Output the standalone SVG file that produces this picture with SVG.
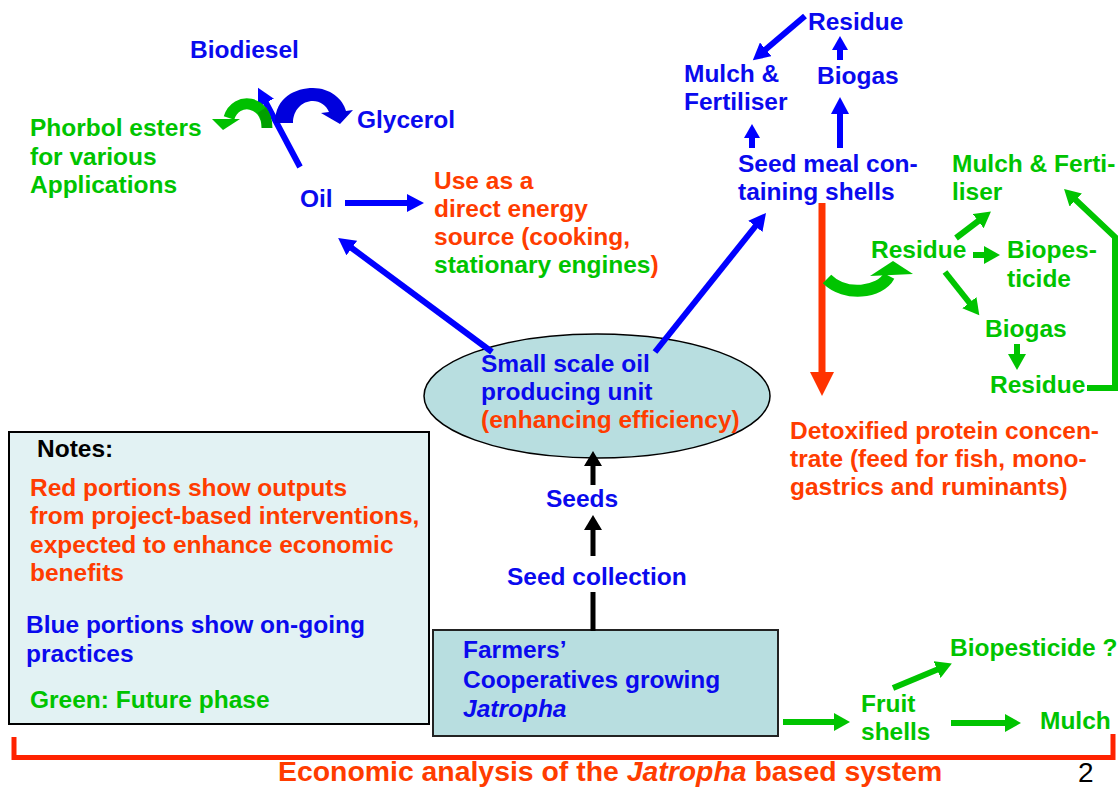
<svg xmlns="http://www.w3.org/2000/svg" width="1120" height="792" viewBox="0 0 1120 792">
<style>
text{font-family:"Liberation Sans",Arial,Helvetica,sans-serif;font-weight:bold;font-size:24.5px}
.b{fill:#0A0AEE}.g{fill:#00C400}.r{fill:#FF3C00}.k{fill:#000}
.lb{stroke:#0000FF;stroke-width:6;fill:none}
.lg{stroke:#00C400;stroke-width:6;fill:none}
.lk{stroke:#000;stroke-width:5;fill:none}
.lr{stroke:#FF3300;stroke-width:7;fill:none}
</style>
<defs>
<marker id="hb" markerUnits="userSpaceOnUse" markerWidth="18" markerHeight="18" viewBox="0 0 18 18" refX="1" refY="9" orient="auto"><path d="M0,0L17,9L0,18z" fill="#0000FF"/></marker>
<marker id="hbs" markerUnits="userSpaceOnUse" markerWidth="16" markerHeight="16" viewBox="0 0 16 16" refX="1" refY="8" orient="auto"><path d="M0,0L14,8L0,16z" fill="#0000FF"/></marker>
<marker id="hg" markerUnits="userSpaceOnUse" markerWidth="18" markerHeight="18" viewBox="0 0 18 18" refX="1" refY="9" orient="auto"><path d="M0,0L16,9L0,18z" fill="#00C400"/></marker>
<marker id="hk" markerUnits="userSpaceOnUse" markerWidth="18" markerHeight="18" viewBox="0 0 18 18" refX="1" refY="9" orient="auto"><path d="M0,0L15,9L0,18z" fill="#000"/></marker>
<marker id="hr" markerUnits="userSpaceOnUse" markerWidth="25" markerHeight="24" viewBox="0 0 25 24" refX="1" refY="12" orient="auto"><path d="M0,0L24,12L0,24z" fill="#FF3300"/></marker>
</defs>

<g id="notes">
<rect x="9" y="432" width="420" height="292" fill="#E2F2F3" stroke="#000" stroke-width="2"/>
<text x="37" y="457" class="k">Notes:</text>
<text class="r"><tspan x="30" y="496">Red portions show outputs</tspan><tspan x="30" y="524">from project-based interventions,</tspan><tspan x="30" y="553">expected to enhance economic</tspan><tspan x="30" y="581">benefits</tspan></text>
<text class="b"><tspan x="26" y="633">Blue portions show on-going</tspan><tspan x="26" y="662">practices</tspan></text>
<text x="30" y="708" class="g">Green: Future phase</text>
</g>

<g id="farmers">
<rect x="433" y="630" width="345" height="106" fill="#B8DEE0" stroke="#222" stroke-width="2"/>
<text class="b"><tspan x="463" y="658">Farmers’</tspan><tspan x="463" y="688">Cooperatives growing</tspan><tspan x="463" y="717" style="font-style:italic">Jatropha</tspan></text>
</g>

<g id="unit">
<ellipse cx="597" cy="396" rx="173" ry="62" fill="#B8DEE0" stroke="#000" stroke-width="1.5"/>
<text class="b"><tspan x="481" y="372">Small scale oil</tspan><tspan x="481" y="400">producing unit</tspan></text>
<text x="481" y="428" class="r">(enhancing efficiency)</text>
</g>

<g id="seeds"><text x="546" y="507" class="b">Seeds</text></g>
<g id="seedcollection"><text x="507" y="585" class="b">Seed collection</text></g>
<g id="oil"><text x="300" y="207" class="b">Oil</text></g>
<g id="biodiesel"><text x="190" y="58" class="b">Biodiesel</text></g>
<g id="glycerol"><text x="357" y="128" class="b">Glycerol</text></g>
<g id="phorbol"><text class="g"><tspan x="30" y="136">Phorbol esters</tspan><tspan x="30" y="165">for various</tspan><tspan x="30" y="193">Applications</tspan></text></g>
<g id="useas"><text class="r"><tspan x="434" y="189">Use as a</tspan><tspan x="434" y="217">direct energy</tspan><tspan x="434" y="245">source (cooking,</tspan><tspan x="434" y="273"><tspan class="g">stationary engines</tspan>)</tspan></text></g>
<g id="seedmeal"><text class="b"><tspan x="738" y="172">Seed meal con-</tspan><tspan x="738" y="200">taining shells</tspan></text></g>
<g id="mulchfert-blue"><text class="b"><tspan x="684" y="82">Mulch &amp;</tspan><tspan x="684" y="110">Fertiliser</tspan></text></g>
<g id="biogas-blue"><text x="817" y="84" class="b">Biogas</text></g>
<g id="residue-blue"><text x="808" y="30" class="b">Residue</text></g>
<g id="mulchfert-green"><text class="g"><tspan x="952" y="172">Mulch &amp; Ferti-</tspan><tspan x="952" y="200">liser</tspan></text></g>
<g id="residue-green"><text x="871" y="258" class="g">Residue</text></g>
<g id="biopes"><text class="g"><tspan x="1007" y="258">Biopes-</tspan><tspan x="1007" y="287">ticide</tspan></text></g>
<g id="biogas-green"><text x="985" y="337" class="g">Biogas</text></g>
<g id="residue-green2"><text x="990" y="393" class="g">Residue</text></g>
<g id="protein"><text class="r"><tspan x="790" y="439">Detoxified protein concen-</tspan><tspan x="790" y="467">trate (feed for fish, mono-</tspan><tspan x="790" y="495">gastrics and ruminants)</tspan></text></g>
<g id="fruitshells"><text class="g"><tspan x="861" y="712">Fruit</tspan><tspan x="861" y="740">shells</tspan></text></g>
<g id="biopest2"><text x="950" y="656" class="g">Biopesticide ?</text></g>
<g id="mulch"><text x="1040" y="729" class="g">Mulch</text></g>

<g id="connectors">
<line x1="345" y1="203" x2="408" y2="203" class="lb" marker-end="url(#hb)"/>
<line x1="492" y1="352" x2="351" y2="247.5" class="lb" marker-end="url(#hb)"/>
<line x1="300" y1="167" x2="265.5" y2="102" class="lb" marker-end="url(#hb)"/>
<line x1="655" y1="352" x2="756" y2="225.5" class="lb" marker-end="url(#hb)"/>
<line x1="805" y1="16" x2="765" y2="50" class="lb" marker-end="url(#hb)"/>
<line x1="840" y1="60" x2="840" y2="49" class="lb" marker-end="url(#hbs)"/>
<line x1="840" y1="148" x2="840" y2="113" class="lb" marker-end="url(#hb)"/>
<line x1="752" y1="148" x2="752" y2="137" class="lb" marker-end="url(#hbs)"/>
<line x1="822" y1="203" x2="822" y2="373" class="lr" marker-end="url(#hr)"/>
<line x1="956" y1="238" x2="979" y2="220.5" class="lg" marker-end="url(#hg)"/>
<line x1="973" y1="255" x2="985" y2="255" class="lg" stroke-width="9" marker-end="url(#hg)"/>
<line x1="945" y1="272" x2="970" y2="303.5" class="lg" marker-end="url(#hg)"/>
<line x1="1017" y1="344" x2="1017" y2="355" class="lg" marker-end="url(#hg)"/>
<polyline points="1087,388 1115,388 1115,237 1075,199.3" class="lg" marker-end="url(#hg)"/>
<line x1="593" y1="485" x2="593" y2="465" class="lk" marker-end="url(#hk)"/>
<line x1="593" y1="556" x2="593" y2="529" class="lk" marker-end="url(#hk)"/>
<line x1="593" y1="592" x2="593" y2="631" class="lk"/>
<line x1="783" y1="722" x2="835" y2="722" class="lg" marker-end="url(#hg)"/>
<line x1="893" y1="688" x2="938" y2="669.2" class="lg" marker-end="url(#hg)"/>
<line x1="951" y1="723" x2="1006" y2="723" class="lg" marker-end="url(#hg)"/>
<!-- curved arrows -->
<path d="M267,128 C267,100 236,96 229,118" fill="none" stroke="#00C000" stroke-width="11"/>
<path d="M262,110 C266,116 267,121 267,128" fill="none" stroke="#00A000" stroke-width="10"/>
<path d="M212,119 L240,119 L223,130 z" fill="#00C000"/>
<path d="M275,123 C275,97 296,88 313,88 C330,88 343,99 346,111 L353,110 L340,124 L321,113 L329,112 C326,105 320,101 313,101 C302,101 293,110 293,123 Z" fill="#0000DD"/>
<path d="M827,279 C845,297 880,293 889,276" fill="none" stroke="#00C400" stroke-width="12"/>
<path d="M870,276 L893,261 L913,274 z" fill="#00C400"/>
<!-- bracket -->
<polyline points="14,737 14,757.5 1113,757.5 1113,734" fill="none" stroke="#FF2200" stroke-width="5"/>
</g>

<g id="caption"><text x="278" y="781" class="r" style="font-size:28.4px"><tspan>Economic analysis of the </tspan><tspan style="font-style:italic">Jatropha</tspan><tspan> based system</tspan></text></g>
<g id="pagenum"><text x="1078" y="782" style="font-weight:normal;font-size:28px" fill="#000">2</text></g>
</svg>
